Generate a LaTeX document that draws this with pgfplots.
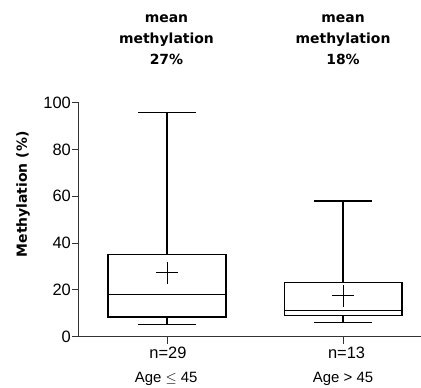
\documentclass[border=0pt]{standalone}
\usepackage{pgfplots}
\pgfplotsset{compat=1.18}
\usepgfplotslibrary{statistics}
\usepackage{fontspec}
\setmainfont{Liberation Sans}
\newfontfamily\titlefont{DejaVu Sans}
\begin{document}
\begin{tikzpicture}
\begin{axis}[name=ax, at={(0,0)}, anchor=south west,
  scale only axis, width=342bp, height=234bp,
  xmin=0.5, xmax=2.443, ymin=0, ymax=100,
  axis x line*=bottom, axis y line*=left,
  axis line style={line width=1bp, black!80},
  ytick={0,20,40,60,80,100}, xtick={1,2}, xticklabels={,},
  tick align=outside, major tick length=7bp,
  tick style={line width=1bp, black!80},
  yticklabel style={font=\fontsize{16.5}{18}\selectfont, inner sep=1bp},
  /pgf/number format/assume math mode=true,
  clip=false,
  boxplot/draw direction=y,
  ]
  \addplot[black, line width=1.1bp, solid, mark=none, boxplot prepared={draw position=1, lower whisker=5.3, lower quartile=8.4, median=18.1, upper quartile=35.3, upper whisker=96, box extend=0.67, whisker extend=0.33}] table[row sep=\\,y index=0] {\\};
  \addplot[black, line width=1.1bp, solid, mark=none, boxplot prepared={draw position=2, lower whisker=6.1, lower quartile=9.0, median=11.1, upper quartile=23.1, upper whisker=58, box extend=0.67, whisker extend=0.33}] table[row sep=\\,y index=0] {\\};
  \addplot[only marks, mark=+, mark size=11bp, mark options={line width=1bp, black}] coordinates {(1,27.4) (2,17.5)};
  % titles
  \node[anchor=base, font=\titlefont\bfseries\fontsize{14}{16}\selectfont] at (axis cs:0.997,134.2) {mean};
  \node[anchor=base, font=\titlefont\bfseries\fontsize{14}{16}\selectfont] at (axis cs:0.997,125.4) {methylation};
  \node[anchor=base, font=\titlefont\bfseries\fontsize{14}{16}\selectfont] at (axis cs:0.997,116.5) {27\%};
  \node[anchor=base, font=\titlefont\bfseries\fontsize{14}{16}\selectfont] at (axis cs:2,134.2) {mean};
  \node[anchor=base, font=\titlefont\bfseries\fontsize{14}{16}\selectfont] at (axis cs:2,125.4) {methylation};
  \node[anchor=base, font=\titlefont\bfseries\fontsize{14}{16}\selectfont] at (axis cs:2,116.5) {18\%};
  % y label
  \node[rotate=90, font=\titlefont\bfseries\fontsize{14}{16}\selectfont] at (axis cs:0.182,60.8) {Methylation (\%)};
  % x labels
  \node[anchor=base, font=\fontsize{16.5}{18}\selectfont] at (axis cs:1.005,-9.5) {n=29};
  \node[anchor=base, font=\fontsize{16.5}{18}\selectfont] at (axis cs:2.02,-9.5) {n=13};
  \node[anchor=base, font=\fontsize{15}{17}\selectfont] at (axis cs:0.995,-19.6) {Age $\le$ 45};
  \node[anchor=base, font=\fontsize{15}{17}\selectfont] at (axis cs:2,-19.6) {Age > 45};
\end{axis}
\pgfresetboundingbox
\path[use as bounding box] (-79bp,-51.3bp) rectangle (342bp,336.7bp);
\end{tikzpicture}
\end{document}
